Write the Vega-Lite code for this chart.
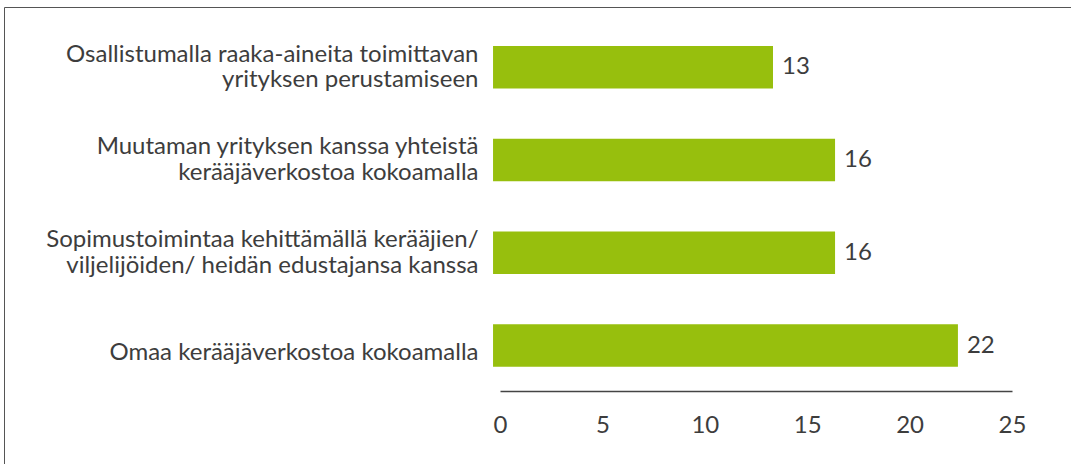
{
  "$schema": "https://vega.github.io/schema/vega-lite/v6.json",
  "width": 1067,
  "height": 470,
  "padding": {"left": 4, "top": 7, "right": 0, "bottom": 0},
  "autosize": {"type": "none"},
  "background": "white",
  "config": {"view": {"stroke": "#555555", "strokeWidth": 1}, "font": "Lato"},
  "data": {
    "values": [
      {"label": "Osallistumalla raaka-aineita toimittavan|yrityksen perustamiseen", "value": 13.33},
      {"label": "Muutaman yrityksen kanssa yhteistä|kerääjäverkostoa kokoamalla", "value": 16.36},
      {"label": "Sopimustoimintaa kehittämällä kerääjien/|viljelijöiden/ heidän edustajansa kanssa", "value": 16.36},
      {"label": "Omaa kerääjäverkostoa kokoamalla", "value": 22.36}
    ]
  },
  "encoding": {
    "y": {
      "field": "label",
      "type": "nominal",
      "sort": null,
      "scale": {"paddingInner": 0.542, "paddingOuter": 0.804, "align": 0.261},
      "axis": {
        "offset": -489,
        "domain": false,
        "ticks": false,
        "labelPadding": 15,
        "labelFontSize": 24,
        "labelFont": "Lato",
        "labelColor": "#3d3d3d",
        "labelLimit": 600,
        "labelLineHeight": 25.5,
        "labelOffset": {"condition": {"test": "indexof(datum.value, '|') >= 0", "value": -12.5}, "value": 7},
        "labelExpr": "split(datum.label, '|')",
        "title": null
      }
    }
  },
  "layer": [
    {
      "mark": {"type": "bar", "color": "#97BF0D"},
      "encoding": {
        "x": {
          "field": "value",
          "type": "quantitative",
          "scale": {"domain": [0, 25], "range": [496, 1008], "nice": false, "zero": false},
          "axis": {
            "offset": -86,
            "values": [0, 5, 10, 15, 20, 25],
            "ticks": false,
            "grid": false,
            "domainColor": "#444444",
            "domainWidth": 1.5,
            "labelFontSize": 24,
            "labelFont": "Lato",
            "labelPadding": 22,
            "labelColor": "#3d3d3d",
            "labelFlush": false,
            "title": null
          }
        },
        "x2": {"datum": -0.34}
      }
    },
    {
      "mark": {"type": "text", "align": "left", "baseline": "middle", "dx": 9, "fontSize": 24, "font": "Lato", "color": "#3d3d3d"},
      "encoding": {
        "x": {"field": "value", "type": "quantitative", "scale": {"domain": [0, 25], "range": [496, 1008], "nice": false, "zero": false}},
        "text": {"field": "value", "type": "quantitative", "format": ".0f"}
      }
    }
  ]
}
